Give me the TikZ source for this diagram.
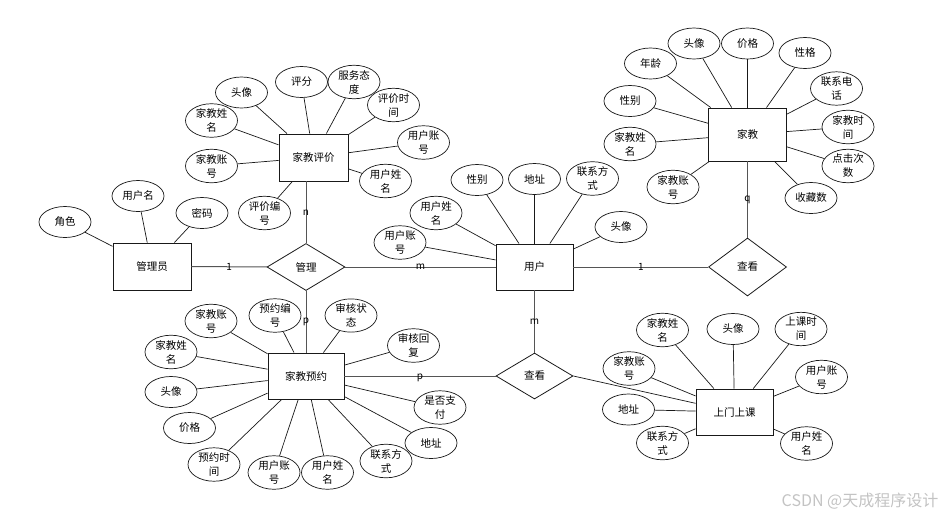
\documentclass[tikz,border=0pt]{standalone}
\usepackage{fontspec}
\setmainfont{Noto Sans CJK SC}
\usepackage{tikz}
\usetikzlibrary{shapes.geometric}
\usepackage{xcolor}
\definecolor{erblack}{RGB}{25, 25, 25}
\definecolor{relgray}{RGB}{85, 85, 85}
\definecolor{markgray}{RGB}{195, 195, 195}
\tikzset{
    entity/.style={draw=erblack, line width=0.9pt, minimum width=77pt, minimum height=46pt, inner sep=0pt},
    relation/.style={draw=erblack, diamond, line width=0.8pt, minimum width=78pt, minimum height=47pt, inner sep=0pt},
    attr/.style={draw=erblack, ellipse, line width=0.7pt, minimum width=52pt, minimum height=31pt, inner sep=0pt, align=center},
    attrline/.style={erblack, line width=0.7pt},
    relline/.style={relgray, line width=1pt},
    card/.style={text=black, font=\fontsize{10}{11}\selectfont, inner sep=0pt}
}

\begin{document}
\begin{tikzpicture}[x=1pt, y=-1pt, font=\fontsize{10.5}{14}\selectfont]
    \useasboundingbox (0,0) rectangle (949,517);
    % entities and relations
    \node[entity, minimum width=78pt, minimum height=47pt] (gly) at (152,266.5) {管理员};
    \node[entity, minimum width=69pt, minimum height=47pt] (pj) at (313.5,157.5) {家教评价};
    \node[entity] (yh) at (534.5,267) {用户};
    \node[entity, minimum width=78pt, minimum height=53pt] (jj) at (747.5,134.5) {家教};
    \node[entity, minimum width=76pt] (yy) at (306,376) {家教预约};
    \node[entity] (sm) at (734.5,412) {上门上课};
    \node[relation] (gl) at (306,267) {管理};
    \node[relation, minimum height=58pt] (ckr) at (747.5,267) {查看};
    \node[relation, minimum width=77pt, minimum height=46pt] (ckb) at (534.5,376) {查看};
    \draw[relline] (gly) -- node[card] {1} (gl);
    \draw[relline] (gl) -- node[card] {m} (yh);
    \draw[relline] (gl) -- node[card] {n} (gl |- pj.south);
    \draw[relline] (gl) -- node[card] {p} (yy);
    \draw[relline] (yy) -- node[card, yshift=-2pt] {p} (ckb);
    \draw[relline] (yh) -- node[card] {m} (ckb);
    \draw[relline] (yh) -- node[card] {1} (ckr);
    \draw[relline] (jj) -- node[card] {q} (ckr);
    \draw[attrline] (ckb.east) -- (sm);
    % 管理员
    \node[attr] (glyJs) at (65,222) {角色};
    \node[attr] (glyYhm) at (138,196) {用户名};
    \node[attr] (glyMm) at (202,213) {密码};
    \draw[attrline] (glyJs) -- (gly);
    \draw[attrline] (glyYhm) -- (gly);
    \draw[attrline] (glyMm) -- (gly);
    % 家教评价
    \node[attr] (pjTx) at (241.5,92.5) {头像};
    \node[attr] (pjPf) at (301.5,82) {评分};
    \node[attr] (pjFw) at (354,82) {服务态\\度};
    \node[attr] (pjSj) at (393.5,105) {评价时\\间};
    \node[attr] (pjYhzh) at (423.5,142.5) {用户账\\号};
    \node[attr] (pjYhxm) at (385.5,181) {用户姓\\名};
    \node[attr] (pjBh) at (264.5,213) {评价编\\号};
    \node[attr] (pjJjzh) at (211.5,166) {家教账\\号};
    \node[attr] (pjJjxm) at (211.5,120.5) {家教姓\\名};
    \draw[attrline] (pjTx) -- (pj);
    \draw[attrline] (pjPf) -- (pj);
    \draw[attrline] (pjFw) -- (pj);
    \draw[attrline] (pjSj) -- (pj);
    \draw[attrline] (pjYhzh) -- (pj);
    \draw[attrline] (pjYhxm) -- (pj);
    \draw[attrline] (pjBh) -- (pj);
    \draw[attrline] (pjJjzh) -- (pj);
    \draw[attrline] (pjJjxm) -- (pj);
    % 用户
    \node[attr] (yhZh) at (400,242.5) {用户账\\号};
    \node[attr] (yhXm) at (436,213) {用户姓\\名};
    \node[attr] (yhXb) at (477,180) {性别};
    \node[attr] (yhDz) at (534.5,179) {地址};
    \node[attr] (yhLx) at (592.5,178.5) {联系方\\式};
    \node[attr] (yhTx) at (621,227) {头像};
    \draw[attrline] (yhZh) -- (yh);
    \draw[attrline] (yhXm) -- (yh);
    \draw[attrline] (yhXb) -- (yh);
    \draw[attrline] (yhDz) -- (yh);
    \draw[attrline] (yhLx) -- (yh);
    \draw[attrline] (yhTx) -- (yh);
    % 家教
    \node[attr] (jjNl) at (650.5,63.5) {年龄};
    \node[attr] (jjTx) at (694,43.5) {头像};
    \node[attr] (jjJg) at (747.5,43.5) {价格};
    \node[attr] (jjXg) at (805,53) {性格};
    \node[attr] (jjDh) at (836.5,88.5) {联系电\\话};
    \node[attr] (jjSj) at (848,127) {家教时\\间};
    \node[attr] (jjCs) at (848,166) {点击次\\数};
    \node[attr] (jjSc) at (811,198) {收藏数};
    \node[attr] (jjZh) at (673,187) {家教账\\号};
    \node[attr] (jjXm) at (630,144) {家教姓\\名};
    \node[attr] (jjXb) at (630,101) {性别};
    \draw[attrline] (jjNl) -- (jj);
    \draw[attrline] (jjTx) -- (jj);
    \draw[attrline] (jjJg) -- (jj);
    \draw[attrline] (jjXg) -- (jj);
    \draw[attrline] (jjDh) -- (jj);
    \draw[attrline] (jjSj) -- (jj);
    \draw[attrline] (jjCs) -- (jj);
    \draw[attrline] (jjSc) -- (jj);
    \draw[attrline] (jjZh) -- (jj);
    \draw[attrline] (jjXm) -- (jj);
    \draw[attrline] (jjXb) -- (jj);
    % 家教预约
    \node[attr] (yyJjzh) at (211,321) {家教账\\号};
    \node[attr] (yyBh) at (275,315.5) {预约编\\号};
    \node[attr] (yyZt) at (351,315.5) {审核状\\态};
    \node[attr] (yyHf) at (413.5,345.5) {审核回\\复};
    \node[attr] (yyZf) at (440,407.5) {是否支\\付};
    \node[attr] (yyDz) at (431,443) {地址};
    \node[attr] (yyLx) at (386,461) {联系方\\式};
    \node[attr] (yyYhxm) at (327.5,472.5) {用户姓\\名};
    \node[attr] (yyYhzh) at (274,472.5) {用户账\\号};
    \node[attr] (yySj) at (214,464.5) {预约时\\间};
    \node[attr] (yyJg) at (189.5,428) {价格};
    \node[attr] (yyTx) at (171,392) {头像};
    \node[attr] (yyJjxm) at (171,352) {家教姓\\名};
    \draw[attrline] (yyJjzh) -- (yy);
    \draw[attrline] (yyBh) -- (yy);
    \draw[attrline] (yyZt) -- (yy);
    \draw[attrline] (yyHf) -- (yy);
    \draw[attrline] (yyZf) -- (yy);
    \draw[attrline] (yyDz) -- (yy);
    \draw[attrline] (yyLx) -- (yy);
    \draw[attrline] (yyYhxm) -- (yy);
    \draw[attrline] (yyYhzh) -- (yy);
    \draw[attrline] (yySj) -- (yy);
    \draw[attrline] (yyJg) -- (yy);
    \draw[attrline] (yyTx) -- (yy);
    \draw[attrline] (yyJjxm) -- (yy);
    % 上门上课
    \node[attr] (smJjxm) at (662.5,330) {家教姓\\名};
    \node[attr] (smTx) at (733,329) {头像};
    \node[attr] (smSj) at (801,329) {上课时\\间};
    \node[attr] (smYhzh) at (821.5,377) {用户账\\号};
    \node[attr] (smYhxm) at (806.5,443.5) {用户姓\\名};
    \node[attr] (smLx) at (662.5,443) {联系方\\式};
    \node[attr] (smDz) at (628.5,409.5) {地址};
    \node[attr] (smJjzh) at (629,368.5) {家教账\\号};
    \draw[attrline] (smJjxm) -- (sm);
    \draw[attrline] (smTx) -- (sm);
    \draw[attrline] (smSj) -- (sm);
    \draw[attrline] (smYhzh) -- (sm);
    \draw[attrline] (smYhxm) -- (sm);
    \draw[attrline] (smLx) -- (sm);
    \draw[attrline] (smDz) -- (sm);
    \draw[attrline] (smJjzh) -- (sm);
    \node[text=markgray, font=\fontsize{16}{16}\selectfont] (wm) at (860,501) {CSDN @天成程序设计};
\end{tikzpicture}
\end{document}
